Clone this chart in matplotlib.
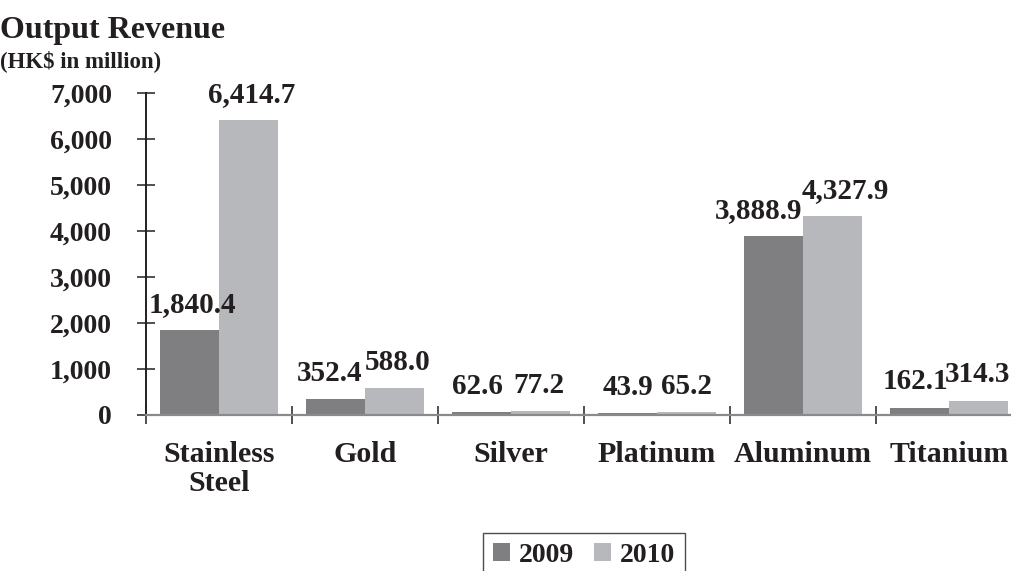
import matplotlib
matplotlib.use('Agg')
import matplotlib.pyplot as plt
import numpy as np
from matplotlib.ticker import FixedLocator, FuncFormatter

categories = ['Stainless\nSteel', 'Gold', 'Silver', 'Platinum', 'Aluminum', 'Titanium']
rev_2009 = [1840.4, 352.4, 62.6, 43.9, 3888.9, 162.1]
rev_2010 = [6414.7, 588.0, 77.2, 65.2, 4327.9, 314.3]
yticks = [0, 1000, 2000, 3000, 4000, 5000, 6000, 7000]

# small sideways nudges (points) so neighbouring labels don't collide
nudge_2009 = [2, -4, -3, 0, -11, -3]
nudge_2010 = [2, 2, -1, 0, 9, -1]

plt.rcParams['font.family'] = ['Liberation Serif', 'DejaVu Serif']
plt.rcParams['font.weight'] = 'bold'

c09 = '#7f7f81'
c10 = '#b7b8bb'
txt = '#231f20'

fig = plt.figure(figsize=(10.11, 5.71), dpi=100)
ax = fig.add_axes([146/1011, 1-415/571, 1-146/1011, (415-93)/571])

x = np.arange(len(categories))
w = 0.404
b1 = ax.bar(x - w/2, rev_2009, w, color=c09, label='2009', zorder=2)
b2 = ax.bar(x + w/2, rev_2010, w, color=c10, label='2010', zorder=2)

for bars, vals, nud in ((b1, rev_2009, nudge_2009), (b2, rev_2010, nudge_2010)):
    for r, v, dx in zip(bars, vals, nud):
        ax.annotate('{:,.1f}'.format(v), xy=(r.get_x() + r.get_width()/2, v),
                    xytext=(dx, 13), textcoords='offset points',
                    ha='center', va='baseline', fontsize=21,
                    fontweight='bold', color=txt, annotation_clip=False)

ax.set_xlim(-0.5, (1011-146)/146 - 0.5)
ax.set_ylim(0, 7000)

ax.spines['top'].set_visible(False)
ax.spines['right'].set_visible(False)
ax.spines['left'].set_color('#231f20')
ax.spines['left'].set_linewidth(1.4)
ax.spines['bottom'].set_color('#8a8a8c')
ax.spines['bottom'].set_linewidth(1.6)

ax.set_yticks(yticks)
ax.yaxis.set_major_formatter(FuncFormatter(lambda v, p: '{:,.0f}'.format(v)))
ax.tick_params(axis='y', direction='inout', length=13, width=1.1,
               color='#231f20', labelsize=20, pad=18, labelcolor=txt)

ax.set_xticks(x)
ax.set_xticklabels(categories, fontsize=21.5, fontweight='bold', color=txt,
                   linespacing=1.1)
ax.xaxis.set_minor_locator(FixedLocator(np.arange(-0.5, 6, 1)))
ax.tick_params(axis='x', which='major', length=0, pad=19)
ax.tick_params(axis='x', which='minor', direction='inout', length=13,
               width=1.1, color='#231f20')
for lab in ax.get_yticklabels():
    lab.set_fontweight('bold')

fig.text(0.0, 1-16/571, 'Output Revenue', fontsize=23, fontweight='bold',
         color=txt, ha='left', va='top')
fig.text(0.0, 1-50/571, '(HK$ in million)', fontsize=16.5, fontweight='bold',
         color=txt, ha='left', va='top')

leg = fig.legend(handles=[b1, b2], loc='upper center',
                 bbox_to_anchor=(584/1011, 1-533/571), ncol=2, fontsize=20,
                 frameon=True, fancybox=False, shadow=False,
                 handlelength=0.62, handleheight=0.62, handletextpad=0.33,
                 columnspacing=0.7, borderpad=0.35, borderaxespad=0)
leg.get_frame().set_edgecolor('#231f20')
leg.get_frame().set_linewidth(1.0)
for t in leg.get_texts():
    t.set_fontweight('bold')
    t.set_color(txt)

fig.savefig('out.png', dpi=100)
